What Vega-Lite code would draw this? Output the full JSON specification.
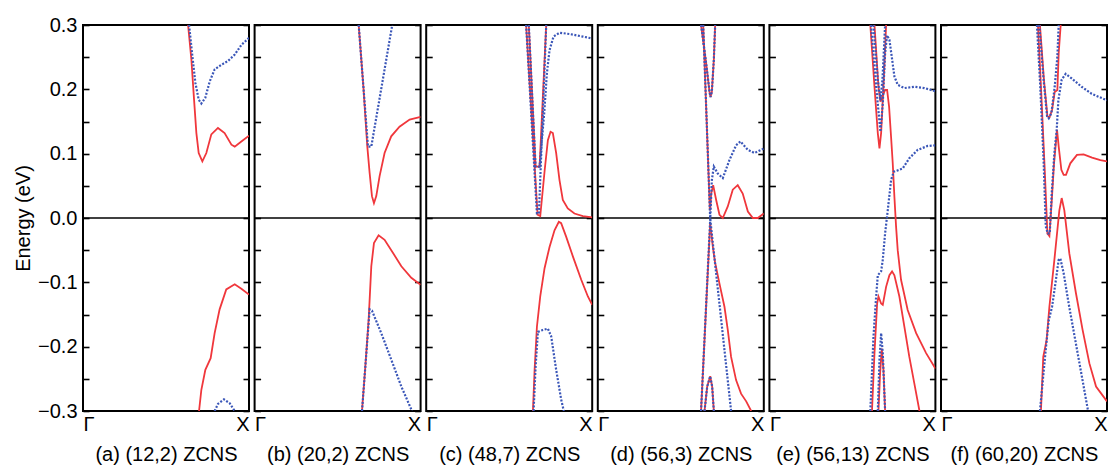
{
"$schema":"https://vega.github.io/schema/vega-lite/v6.json",
"padding":{"left":12,"top":14,"right":2,"bottom":0},
"autosize":{"type":"pad"},
"spacing":5.6,
"bounds":"flush",
"config":{"view":{"stroke":"black","strokeWidth":2},"axis":{"labelFont":"Liberation Sans","titleFont":"Liberation Sans","labelColor":"black","titleColor":"black","grid":false,"domain":false,"tickColor":"black"}},
"datasets":{"bands":[
{"p":"a","b":"r1","c":"r","x":0.633,"y":0.3},{"p":"a","b":"r1","c":"r","x":0.653,"y":0.246},{"p":"a","b":"r1","c":"r","x":0.669,"y":0.184},{"p":"a","b":"r1","c":"r","x":0.683,"y":0.132},{"p":"a","b":"r1","c":"r","x":0.697,"y":0.101},{"p":"a","b":"r1","c":"r","x":0.719,"y":0.088},{"p":"a","b":"r1","c":"r","x":0.743,"y":0.101},{"p":"a","b":"r1","c":"r","x":0.773,"y":0.13},{"p":"a","b":"r1","c":"r","x":0.813,"y":0.14},{"p":"a","b":"r1","c":"r","x":0.853,"y":0.132},{"p":"a","b":"r1","c":"r","x":0.894,"y":0.114},{"p":"a","b":"r1","c":"r","x":0.914,"y":0.111},{"p":"a","b":"r1","c":"r","x":0.954,"y":0.119},{"p":"a","b":"r1","c":"r","x":1.0,"y":0.128},
{"p":"a","b":"b1","c":"b","x":0.639,"y":0.3},{"p":"a","b":"b1","c":"b","x":0.657,"y":0.256},{"p":"a","b":"b1","c":"b","x":0.677,"y":0.21},{"p":"a","b":"b1","c":"b","x":0.697,"y":0.184},{"p":"a","b":"b1","c":"b","x":0.713,"y":0.178},{"p":"a","b":"b1","c":"b","x":0.737,"y":0.187},{"p":"a","b":"b1","c":"b","x":0.763,"y":0.212},{"p":"a","b":"b1","c":"b","x":0.793,"y":0.231},{"p":"a","b":"b1","c":"b","x":0.833,"y":0.238},{"p":"a","b":"b1","c":"b","x":0.873,"y":0.244},{"p":"a","b":"b1","c":"b","x":0.914,"y":0.254},{"p":"a","b":"b1","c":"b","x":0.954,"y":0.269},{"p":"a","b":"b1","c":"b","x":1.0,"y":0.28},
{"p":"a","b":"r2","c":"r","x":0.699,"y":-0.3},{"p":"a","b":"r2","c":"r","x":0.713,"y":-0.267},{"p":"a","b":"r2","c":"r","x":0.737,"y":-0.236},{"p":"a","b":"r2","c":"r","x":0.769,"y":-0.218},{"p":"a","b":"r2","c":"r","x":0.793,"y":-0.179},{"p":"a","b":"r2","c":"r","x":0.823,"y":-0.142},{"p":"a","b":"r2","c":"r","x":0.863,"y":-0.111},{"p":"a","b":"r2","c":"r","x":0.914,"y":-0.103},{"p":"a","b":"r2","c":"r","x":0.954,"y":-0.11},{"p":"a","b":"r2","c":"r","x":1.0,"y":-0.119},
{"p":"a","b":"b2","c":"b","x":0.793,"y":-0.3},{"p":"a","b":"b2","c":"b","x":0.813,"y":-0.289},{"p":"a","b":"b2","c":"b","x":0.849,"y":-0.282},{"p":"a","b":"b2","c":"b","x":0.884,"y":-0.288},{"p":"a","b":"b2","c":"b","x":0.914,"y":-0.3},

{"p":"b","b":"b1","c":"b","x":0.627,"y":0.3},{"p":"b","b":"b1","c":"b","x":0.683,"y":0.111},{"p":"b","b":"b1","c":"b","x":0.703,"y":0.111},{"p":"b","b":"b1","c":"b","x":0.829,"y":0.3},
{"p":"b","b":"r1","c":"r","x":0.627,"y":0.3},{"p":"b","b":"r1","c":"r","x":0.655,"y":0.205},{"p":"b","b":"r1","c":"r","x":0.679,"y":0.111},{"p":"b","b":"r1","c":"r","x":0.693,"y":0.07},{"p":"b","b":"r1","c":"r","x":0.707,"y":0.034},{"p":"b","b":"r1","c":"r","x":0.719,"y":0.023},{"p":"b","b":"r1","c":"r","x":0.733,"y":0.034},{"p":"b","b":"r1","c":"r","x":0.753,"y":0.065},{"p":"b","b":"r1","c":"r","x":0.783,"y":0.101},{"p":"b","b":"r1","c":"r","x":0.823,"y":0.127},{"p":"b","b":"r1","c":"r","x":0.873,"y":0.142},{"p":"b","b":"r1","c":"r","x":0.934,"y":0.153},{"p":"b","b":"r1","c":"r","x":1.0,"y":0.157},
{"p":"b","b":"r2","c":"r","x":0.647,"y":-0.3},{"p":"b","b":"r2","c":"r","x":0.667,"y":-0.231},{"p":"b","b":"r2","c":"r","x":0.687,"y":-0.158},{"p":"b","b":"r2","c":"r","x":0.703,"y":-0.075},{"p":"b","b":"r2","c":"r","x":0.719,"y":-0.039},{"p":"b","b":"r2","c":"r","x":0.747,"y":-0.027},{"p":"b","b":"r2","c":"r","x":0.783,"y":-0.034},{"p":"b","b":"r2","c":"r","x":0.833,"y":-0.054},{"p":"b","b":"r2","c":"r","x":0.884,"y":-0.075},{"p":"b","b":"r2","c":"r","x":0.944,"y":-0.093},{"p":"b","b":"r2","c":"r","x":1.0,"y":-0.104},
{"p":"b","b":"b2","c":"b","x":0.647,"y":-0.3},{"p":"b","b":"b2","c":"b","x":0.693,"y":-0.142},{"p":"b","b":"b2","c":"b","x":0.707,"y":-0.144},{"p":"b","b":"b2","c":"b","x":0.763,"y":-0.179},{"p":"b","b":"b2","c":"b","x":0.823,"y":-0.22},{"p":"b","b":"b2","c":"b","x":0.884,"y":-0.262},{"p":"b","b":"b2","c":"b","x":0.948,"y":-0.3},

{"p":"c","b":"b1","c":"b","x":0.602,"y":0.3},{"p":"c","b":"b1","c":"b","x":0.667,"y":0.007},{"p":"c","b":"b1","c":"b","x":0.679,"y":0.007},{"p":"c","b":"b1","c":"b","x":0.723,"y":0.3},
{"p":"c","b":"b2","c":"b","x":0.618,"y":0.3},{"p":"c","b":"b2","c":"b","x":0.659,"y":0.08},{"p":"c","b":"b2","c":"b","x":0.683,"y":0.08},{"p":"c","b":"b2","c":"b","x":0.711,"y":0.163},{"p":"c","b":"b2","c":"b","x":0.727,"y":0.225},{"p":"c","b":"b2","c":"b","x":0.743,"y":0.261},{"p":"c","b":"b2","c":"b","x":0.767,"y":0.282},{"p":"c","b":"b2","c":"b","x":0.803,"y":0.288},{"p":"c","b":"b2","c":"b","x":0.863,"y":0.286},{"p":"c","b":"b2","c":"b","x":0.944,"y":0.282},{"p":"c","b":"b2","c":"b","x":1.0,"y":0.279},
{"p":"c","b":"r1","c":"r","x":0.602,"y":0.3},{"p":"c","b":"r1","c":"r","x":0.671,"y":0.005},{"p":"c","b":"r1","c":"r","x":0.687,"y":0.003},{"p":"c","b":"r1","c":"r","x":0.714,"y":0.075},{"p":"c","b":"r1","c":"r","x":0.733,"y":0.121},{"p":"c","b":"r1","c":"r","x":0.749,"y":0.134},{"p":"c","b":"r1","c":"r","x":0.763,"y":0.132},{"p":"c","b":"r1","c":"r","x":0.783,"y":0.101},{"p":"c","b":"r1","c":"r","x":0.803,"y":0.059},{"p":"c","b":"r1","c":"r","x":0.823,"y":0.028},{"p":"c","b":"r1","c":"r","x":0.853,"y":0.015},{"p":"c","b":"r1","c":"r","x":0.893,"y":0.007},{"p":"c","b":"r1","c":"r","x":0.944,"y":0.003},{"p":"c","b":"r1","c":"r","x":1.0,"y":0.001},
{"p":"c","b":"r2","c":"r","x":0.618,"y":0.3},{"p":"c","b":"r2","c":"r","x":0.659,"y":0.08},{"p":"c","b":"r2","c":"r","x":0.683,"y":0.08},{"p":"c","b":"r2","c":"r","x":0.723,"y":0.3},
{"p":"c","b":"r3","c":"r","x":0.643,"y":-0.3},{"p":"c","b":"r3","c":"r","x":0.653,"y":-0.236},{"p":"c","b":"r3","c":"r","x":0.667,"y":-0.169},{"p":"c","b":"r3","c":"r","x":0.687,"y":-0.122},{"p":"c","b":"r3","c":"r","x":0.713,"y":-0.078},{"p":"c","b":"r3","c":"r","x":0.743,"y":-0.045},{"p":"c","b":"r3","c":"r","x":0.773,"y":-0.019},{"p":"c","b":"r3","c":"r","x":0.799,"y":-0.006},{"p":"c","b":"r3","c":"r","x":0.813,"y":-0.008},{"p":"c","b":"r3","c":"r","x":0.843,"y":-0.029},{"p":"c","b":"r3","c":"r","x":0.884,"y":-0.06},{"p":"c","b":"r3","c":"r","x":0.934,"y":-0.096},{"p":"c","b":"r3","c":"r","x":0.974,"y":-0.122},{"p":"c","b":"r3","c":"r","x":1.0,"y":-0.135},
{"p":"c","b":"b3","c":"b","x":0.647,"y":-0.3},{"p":"c","b":"b3","c":"b","x":0.659,"y":-0.231},{"p":"c","b":"b3","c":"b","x":0.673,"y":-0.177},{"p":"c","b":"b3","c":"b","x":0.703,"y":-0.174},{"p":"c","b":"b3","c":"b","x":0.733,"y":-0.172},{"p":"c","b":"b3","c":"b","x":0.753,"y":-0.184},{"p":"c","b":"b3","c":"b","x":0.783,"y":-0.236},{"p":"c","b":"b3","c":"b","x":0.813,"y":-0.282},{"p":"c","b":"b3","c":"b","x":0.829,"y":-0.3},

{"p":"d","b":"b1","c":"b","x":0.622,"y":0.3},{"p":"d","b":"b1","c":"b","x":0.653,"y":0.24},{"p":"d","b":"b1","c":"b","x":0.673,"y":0.196},{"p":"d","b":"b1","c":"b","x":0.679,"y":0.188},{"p":"d","b":"b1","c":"b","x":0.687,"y":0.196},{"p":"d","b":"b1","c":"b","x":0.699,"y":0.246},{"p":"d","b":"b1","c":"b","x":0.707,"y":0.3},
{"p":"d","b":"r1","c":"r","x":0.622,"y":0.3},{"p":"d","b":"r1","c":"r","x":0.653,"y":0.24},{"p":"d","b":"r1","c":"r","x":0.673,"y":0.196},{"p":"d","b":"r1","c":"r","x":0.679,"y":0.188},{"p":"d","b":"r1","c":"r","x":0.687,"y":0.196},{"p":"d","b":"r1","c":"r","x":0.699,"y":0.246},{"p":"d","b":"r1","c":"r","x":0.707,"y":0.3},
{"p":"d","b":"b2","c":"b","x":0.635,"y":0.3},{"p":"d","b":"b2","c":"b","x":0.677,"y":-0.001},{"p":"d","b":"b2","c":"b","x":0.803,"y":-0.3},
{"p":"d","b":"b3","c":"b","x":0.622,"y":-0.3},{"p":"d","b":"b3","c":"b","x":0.677,"y":-0.003},{"p":"d","b":"b3","c":"b","x":0.687,"y":0.059},{"p":"d","b":"b3","c":"b","x":0.699,"y":0.08},{"p":"d","b":"b3","c":"b","x":0.723,"y":0.069},{"p":"d","b":"b3","c":"b","x":0.753,"y":0.062},{"p":"d","b":"b3","c":"b","x":0.793,"y":0.09},{"p":"d","b":"b3","c":"b","x":0.833,"y":0.113},{"p":"d","b":"b3","c":"b","x":0.859,"y":0.119},{"p":"d","b":"b3","c":"b","x":0.904,"y":0.106},{"p":"d","b":"b3","c":"b","x":0.944,"y":0.101},{"p":"d","b":"b3","c":"b","x":1.0,"y":0.108},
{"p":"d","b":"r2","c":"r","x":0.635,"y":0.3},{"p":"d","b":"r2","c":"r","x":0.675,"y":0.012},
{"p":"d","b":"r3","c":"r","x":0.622,"y":-0.3},{"p":"d","b":"r3","c":"r","x":0.677,"y":-0.008},
{"p":"d","b":"r4","c":"r","x":0.677,"y":-0.008},{"p":"d","b":"r4","c":"r","x":0.693,"y":-0.045},{"p":"d","b":"r4","c":"r","x":0.707,"y":-0.07},{"p":"d","b":"r4","c":"r","x":0.733,"y":-0.102},{"p":"d","b":"r4","c":"r","x":0.763,"y":-0.138},{"p":"d","b":"r4","c":"r","x":0.783,"y":-0.174},{"p":"d","b":"r4","c":"r","x":0.803,"y":-0.216},{"p":"d","b":"r4","c":"r","x":0.833,"y":-0.252},{"p":"d","b":"r4","c":"r","x":0.863,"y":-0.273},{"p":"d","b":"r4","c":"r","x":0.894,"y":-0.285},{"p":"d","b":"r4","c":"r","x":0.924,"y":-0.3},
{"p":"d","b":"r5","c":"r","x":0.677,"y":0.012},{"p":"d","b":"r5","c":"r","x":0.683,"y":0.038},{"p":"d","b":"r5","c":"r","x":0.695,"y":0.051},{"p":"d","b":"r5","c":"r","x":0.713,"y":0.028},{"p":"d","b":"r5","c":"r","x":0.733,"y":0.005},{"p":"d","b":"r5","c":"r","x":0.753,"y":0.0},{"p":"d","b":"r5","c":"r","x":0.783,"y":0.018},{"p":"d","b":"r5","c":"r","x":0.813,"y":0.044},{"p":"d","b":"r5","c":"r","x":0.843,"y":0.051},{"p":"d","b":"r5","c":"r","x":0.873,"y":0.038},{"p":"d","b":"r5","c":"r","x":0.904,"y":0.01},{"p":"d","b":"r5","c":"r","x":0.934,"y":0.0},{"p":"d","b":"r5","c":"r","x":0.964,"y":0.0},{"p":"d","b":"r5","c":"r","x":1.0,"y":0.007},
{"p":"d","b":"b4","c":"b","x":0.643,"y":-0.3},{"p":"d","b":"b4","c":"b","x":0.659,"y":-0.262},{"p":"d","b":"b4","c":"b","x":0.677,"y":-0.246},{"p":"d","b":"b4","c":"b","x":0.689,"y":-0.262},{"p":"d","b":"b4","c":"b","x":0.699,"y":-0.3},
{"p":"d","b":"r6","c":"r","x":0.643,"y":-0.3},{"p":"d","b":"r6","c":"r","x":0.659,"y":-0.262},{"p":"d","b":"r6","c":"r","x":0.677,"y":-0.246},{"p":"d","b":"r6","c":"r","x":0.689,"y":-0.262},{"p":"d","b":"r6","c":"r","x":0.699,"y":-0.3},

{"p":"e","b":"b1","c":"b","x":0.612,"y":0.3},{"p":"e","b":"b1","c":"b","x":0.643,"y":0.204},{"p":"e","b":"b1","c":"b","x":0.669,"y":0.134},{"p":"e","b":"b1","c":"b","x":0.683,"y":0.178},{"p":"e","b":"b1","c":"b","x":0.697,"y":0.256},{"p":"e","b":"b1","c":"b","x":0.709,"y":0.284},{"p":"e","b":"b1","c":"b","x":0.723,"y":0.277},{"p":"e","b":"b1","c":"b","x":0.737,"y":0.251},{"p":"e","b":"b1","c":"b","x":0.753,"y":0.22},{"p":"e","b":"b1","c":"b","x":0.773,"y":0.207},{"p":"e","b":"b1","c":"b","x":0.813,"y":0.202},{"p":"e","b":"b1","c":"b","x":0.873,"y":0.204},{"p":"e","b":"b1","c":"b","x":0.934,"y":0.202},{"p":"e","b":"b1","c":"b","x":1.0,"y":0.197},
{"p":"e","b":"b2","c":"b","x":0.627,"y":0.3},{"p":"e","b":"b2","c":"b","x":0.653,"y":0.215},{"p":"e","b":"b2","c":"b","x":0.669,"y":0.183},{"p":"e","b":"b2","c":"b","x":0.681,"y":0.215},{"p":"e","b":"b2","c":"b","x":0.697,"y":0.3},
{"p":"e","b":"r1","c":"r","x":0.608,"y":0.3},{"p":"e","b":"r1","c":"r","x":0.633,"y":0.204},{"p":"e","b":"r1","c":"r","x":0.653,"y":0.132},{"p":"e","b":"r1","c":"r","x":0.663,"y":0.108},{"p":"e","b":"r1","c":"r","x":0.673,"y":0.132},{"p":"e","b":"r1","c":"r","x":0.689,"y":0.215},{"p":"e","b":"r1","c":"r","x":0.703,"y":0.3},
{"p":"e","b":"r2","c":"r","x":0.633,"y":0.3},{"p":"e","b":"r2","c":"r","x":0.657,"y":0.204},{"p":"e","b":"r2","c":"r","x":0.669,"y":0.181},{"p":"e","b":"r2","c":"r","x":0.681,"y":0.189},{"p":"e","b":"r2","c":"r","x":0.697,"y":0.199},{"p":"e","b":"r2","c":"r","x":0.709,"y":0.199},{"p":"e","b":"r2","c":"r","x":0.721,"y":0.173},{"p":"e","b":"r2","c":"r","x":0.733,"y":0.126},{"p":"e","b":"r2","c":"r","x":0.743,"y":0.085},{"p":"e","b":"r2","c":"r","x":0.753,"y":0.033},{"p":"e","b":"r2","c":"r","x":0.763,"y":-0.013},{"p":"e","b":"r2","c":"r","x":0.773,"y":-0.05},{"p":"e","b":"r2","c":"r","x":0.793,"y":-0.096},{"p":"e","b":"r2","c":"r","x":0.833,"y":-0.143},{"p":"e","b":"r2","c":"r","x":0.884,"y":-0.179},{"p":"e","b":"r2","c":"r","x":0.944,"y":-0.21},{"p":"e","b":"r2","c":"r","x":1.0,"y":-0.234},
{"p":"e","b":"b3","c":"b","x":0.608,"y":-0.3},{"p":"e","b":"b3","c":"b","x":0.627,"y":-0.184},{"p":"e","b":"b3","c":"b","x":0.643,"y":-0.122},{"p":"e","b":"b3","c":"b","x":0.653,"y":-0.089},{"p":"e","b":"b3","c":"b","x":0.673,"y":-0.083},{"p":"e","b":"b3","c":"b","x":0.683,"y":-0.065},{"p":"e","b":"b3","c":"b","x":0.697,"y":-0.024},{"p":"e","b":"b3","c":"b","x":0.713,"y":0.012},{"p":"e","b":"b3","c":"b","x":0.733,"y":0.059},{"p":"e","b":"b3","c":"b","x":0.749,"y":0.072},{"p":"e","b":"b3","c":"b","x":0.773,"y":0.074},{"p":"e","b":"b3","c":"b","x":0.803,"y":0.077},{"p":"e","b":"b3","c":"b","x":0.843,"y":0.093},{"p":"e","b":"b3","c":"b","x":0.894,"y":0.106},{"p":"e","b":"b3","c":"b","x":0.954,"y":0.112},{"p":"e","b":"b3","c":"b","x":1.0,"y":0.113},
{"p":"e","b":"r3","c":"r","x":0.618,"y":-0.3},{"p":"e","b":"r3","c":"r","x":0.633,"y":-0.21},{"p":"e","b":"r3","c":"r","x":0.649,"y":-0.133},{"p":"e","b":"r3","c":"r","x":0.657,"y":-0.122},{"p":"e","b":"r3","c":"r","x":0.673,"y":-0.133},{"p":"e","b":"r3","c":"r","x":0.683,"y":-0.135},{"p":"e","b":"r3","c":"r","x":0.703,"y":-0.107},{"p":"e","b":"r3","c":"r","x":0.723,"y":-0.089},{"p":"e","b":"r3","c":"r","x":0.739,"y":-0.083},{"p":"e","b":"r3","c":"r","x":0.753,"y":-0.089},{"p":"e","b":"r3","c":"r","x":0.783,"y":-0.122},{"p":"e","b":"r3","c":"r","x":0.813,"y":-0.169},{"p":"e","b":"r3","c":"r","x":0.843,"y":-0.216},{"p":"e","b":"r3","c":"r","x":0.873,"y":-0.257},{"p":"e","b":"r3","c":"r","x":0.904,"y":-0.3},
{"p":"e","b":"b4","c":"b","x":0.653,"y":-0.3},{"p":"e","b":"b4","c":"b","x":0.663,"y":-0.221},{"p":"e","b":"b4","c":"b","x":0.673,"y":-0.179},{"p":"e","b":"b4","c":"b","x":0.683,"y":-0.21},{"p":"e","b":"b4","c":"b","x":0.697,"y":-0.3},
{"p":"e","b":"r4","c":"r","x":0.657,"y":-0.3},{"p":"e","b":"r4","c":"r","x":0.667,"y":-0.241},{"p":"e","b":"r4","c":"r","x":0.677,"y":-0.203},{"p":"e","b":"r4","c":"r","x":0.687,"y":-0.236},{"p":"e","b":"r4","c":"r","x":0.697,"y":-0.3},

{"p":"f","b":"b1","c":"b","x":0.578,"y":0.3},{"p":"f","b":"b1","c":"b","x":0.598,"y":0.204},{"p":"f","b":"b1","c":"b","x":0.618,"y":0.09},{"p":"f","b":"b1","c":"b","x":0.631,"y":-0.013},{"p":"f","b":"b1","c":"b","x":0.643,"y":-0.024},{"p":"f","b":"b1","c":"b","x":0.655,"y":-0.024},{"p":"f","b":"b1","c":"b","x":0.667,"y":0.038},{"p":"f","b":"b1","c":"b","x":0.683,"y":0.101},{"p":"f","b":"b1","c":"b","x":0.697,"y":0.137},{"p":"f","b":"b1","c":"b","x":0.707,"y":0.183},{"p":"f","b":"b1","c":"b","x":0.727,"y":0.215},{"p":"f","b":"b1","c":"b","x":0.751,"y":0.224},{"p":"f","b":"b1","c":"b","x":0.787,"y":0.217},{"p":"f","b":"b1","c":"b","x":0.847,"y":0.204},{"p":"f","b":"b1","c":"b","x":0.908,"y":0.193},{"p":"f","b":"b1","c":"b","x":1.0,"y":0.183},
{"p":"f","b":"r1","c":"r","x":0.584,"y":0.3},{"p":"f","b":"r1","c":"r","x":0.604,"y":0.194},{"p":"f","b":"r1","c":"r","x":0.624,"y":0.08},{"p":"f","b":"r1","c":"r","x":0.641,"y":-0.024},{"p":"f","b":"r1","c":"r","x":0.653,"y":-0.028},{"p":"f","b":"r1","c":"r","x":0.665,"y":0.018},{"p":"f","b":"r1","c":"r","x":0.681,"y":0.085},{"p":"f","b":"r1","c":"r","x":0.699,"y":0.137},{"p":"f","b":"r1","c":"r","x":0.709,"y":0.111},{"p":"f","b":"r1","c":"r","x":0.725,"y":0.075},{"p":"f","b":"r1","c":"r","x":0.739,"y":0.067},{"p":"f","b":"r1","c":"r","x":0.753,"y":0.067},{"p":"f","b":"r1","c":"r","x":0.779,"y":0.085},{"p":"f","b":"r1","c":"r","x":0.819,"y":0.098},{"p":"f","b":"r1","c":"r","x":0.859,"y":0.099},{"p":"f","b":"r1","c":"r","x":0.91,"y":0.094},{"p":"f","b":"r1","c":"r","x":0.96,"y":0.09},{"p":"f","b":"r1","c":"r","x":1.0,"y":0.088},
{"p":"f","b":"b2","c":"b","x":0.592,"y":0.3},{"p":"f","b":"b2","c":"b","x":0.618,"y":0.215},{"p":"f","b":"b2","c":"b","x":0.639,"y":0.158},{"p":"f","b":"b2","c":"b","x":0.649,"y":0.155},{"p":"f","b":"b2","c":"b","x":0.665,"y":0.163},{"p":"f","b":"b2","c":"b","x":0.685,"y":0.204},{"p":"f","b":"b2","c":"b","x":0.701,"y":0.251},{"p":"f","b":"b2","c":"b","x":0.709,"y":0.3},
{"p":"f","b":"r2","c":"r","x":0.596,"y":0.3},{"p":"f","b":"r2","c":"r","x":0.62,"y":0.215},{"p":"f","b":"r2","c":"r","x":0.641,"y":0.158},{"p":"f","b":"r2","c":"r","x":0.653,"y":0.156},{"p":"f","b":"r2","c":"r","x":0.669,"y":0.168},{"p":"f","b":"r2","c":"r","x":0.685,"y":0.196},{"p":"f","b":"r2","c":"r","x":0.701,"y":0.199},{"p":"f","b":"r2","c":"r","x":0.709,"y":0.256},{"p":"f","b":"r2","c":"r","x":0.721,"y":0.3},
{"p":"f","b":"r3","c":"r","x":0.602,"y":-0.3},{"p":"f","b":"r3","c":"r","x":0.616,"y":-0.216},{"p":"f","b":"r3","c":"r","x":0.636,"y":-0.19},{"p":"f","b":"r3","c":"r","x":0.653,"y":-0.138},{"p":"f","b":"r3","c":"r","x":0.683,"y":-0.065},{"p":"f","b":"r3","c":"r","x":0.713,"y":0.012},{"p":"f","b":"r3","c":"r","x":0.727,"y":0.031},{"p":"f","b":"r3","c":"r","x":0.743,"y":0.012},{"p":"f","b":"r3","c":"r","x":0.773,"y":-0.055},{"p":"f","b":"r3","c":"r","x":0.813,"y":-0.117},{"p":"f","b":"r3","c":"r","x":0.853,"y":-0.174},{"p":"f","b":"r3","c":"r","x":0.894,"y":-0.226},{"p":"f","b":"r3","c":"r","x":0.934,"y":-0.262},{"p":"f","b":"r3","c":"r","x":1.0,"y":-0.285},
{"p":"f","b":"b3","c":"b","x":0.596,"y":-0.3},{"p":"f","b":"b3","c":"b","x":0.629,"y":-0.21},{"p":"f","b":"b3","c":"b","x":0.649,"y":-0.159},{"p":"f","b":"b3","c":"b","x":0.669,"y":-0.138},{"p":"f","b":"b3","c":"b","x":0.689,"y":-0.102},{"p":"f","b":"b3","c":"b","x":0.709,"y":-0.065},{"p":"f","b":"b3","c":"b","x":0.719,"y":-0.063},{"p":"f","b":"b3","c":"b","x":0.739,"y":-0.086},{"p":"f","b":"b3","c":"b","x":0.769,"y":-0.133},{"p":"f","b":"b3","c":"b","x":0.809,"y":-0.19},{"p":"f","b":"b3","c":"b","x":0.849,"y":-0.247},{"p":"f","b":"b3","c":"b","x":0.886,"y":-0.3}
]},
"hconcat":[
{"width":166,"height":386,"layer":[
 {"data":{"values":[{"v":0}]},"mark":{"type":"rule","color":"black","strokeWidth":1.5},"encoding":{"y":{"field":"v","type":"quantitative","scale":{"domain":[-0.3,0.3],"nice":false,"zero":false},"axis":{"orient":"left","values":[-0.3,-0.25,-0.2,-0.15,-0.1,-0.05,0,0.05,0.1,0.15,0.2,0.25,0.3],"offset":-6,"tickSize":6,"tickWidth":1.6,"labelExpr":"abs(round(datum.value*20)) % 2 == 0 ? format(datum.value, '.1f') : ''","labelFontSize":20,"labelPadding":6,"labelFlush":false,"labelOverlap":false,"title":"Energy (eV)","titleFontSize":20,"titleFontWeight":"normal","titlePadding":4}}}},
 {"data":{"name":"bands"},"transform":[{"filter":"datum.p=='a' && datum.c=='r'"}],"mark":{"type":"line","color":"#f0373c","strokeWidth":1.8,"clip":true},"encoding":{"x":{"field":"x","type":"quantitative","scale":{"domain":[0,1],"nice":false,"zero":false},"axis":{"values":[0,1],"labelExpr":"datum.value == 0 ? 'Γ' : 'X'","ticks":false,"labelFlush":true,"labelOverlap":false,"labelFontSize":20,"labelPadding":3,"title":"(a) (12,2) ZCNS","titleFontSize":20,"titleFontWeight":"normal","titlePadding":10}},"y":{"field":"y","type":"quantitative","scale":{"domain":[-0.3,0.3],"nice":false,"zero":false},"axis":{"orient":"right","values":[-0.3,-0.25,-0.2,-0.15,-0.1,-0.05,0,0.05,0.1,0.15,0.2,0.25,0.3],"offset":-6,"tickSize":6,"tickWidth":1.6,"labels":false,"title":null}},"detail":{"field":"b"}}},
 {"data":{"name":"bands"},"transform":[{"filter":"datum.p=='a' && datum.c=='b'"}],"mark":{"type":"line","color":"#3a56b8","strokeWidth":2.2,"strokeDash":[2,1.6],"clip":true},"encoding":{"x":{"field":"x","type":"quantitative","scale":{"domain":[0,1],"nice":false,"zero":false},"axis":{"values":[0,1],"labelExpr":"datum.value == 0 ? 'Γ' : 'X'","ticks":false,"labelFlush":true,"labelOverlap":false,"labelFontSize":20,"labelPadding":3,"title":"(a) (12,2) ZCNS","titleFontSize":20,"titleFontWeight":"normal","titlePadding":10}},"y":{"field":"y","type":"quantitative","scale":{"domain":[-0.3,0.3],"nice":false,"zero":false},"axis":null},"detail":{"field":"b"}}}
],"resolve":{"axis":{"y":"independent"}}},
{"width":166,"height":386,"layer":[
 {"data":{"values":[{"v":0}]},"mark":{"type":"rule","color":"black","strokeWidth":1.5},"encoding":{"y":{"field":"v","type":"quantitative","scale":{"domain":[-0.3,0.3],"nice":false,"zero":false},"axis":{"orient":"left","values":[-0.3,-0.25,-0.2,-0.15,-0.1,-0.05,0,0.05,0.1,0.15,0.2,0.25,0.3],"offset":-6,"tickSize":6,"tickWidth":1.6,"labels":false,"title":null}}}},
 {"data":{"name":"bands"},"transform":[{"filter":"datum.p=='b' && datum.c=='r'"}],"mark":{"type":"line","color":"#f0373c","strokeWidth":1.8,"clip":true},"encoding":{"x":{"field":"x","type":"quantitative","scale":{"domain":[0,1],"nice":false,"zero":false},"axis":{"values":[0,1],"labelExpr":"datum.value == 0 ? 'Γ' : 'X'","ticks":false,"labelFlush":true,"labelOverlap":false,"labelFontSize":20,"labelPadding":3,"title":"(b) (20,2) ZCNS","titleFontSize":20,"titleFontWeight":"normal","titlePadding":10}},"y":{"field":"y","type":"quantitative","scale":{"domain":[-0.3,0.3],"nice":false,"zero":false},"axis":{"orient":"right","values":[-0.3,-0.25,-0.2,-0.15,-0.1,-0.05,0,0.05,0.1,0.15,0.2,0.25,0.3],"offset":-6,"tickSize":6,"tickWidth":1.6,"labels":false,"title":null}},"detail":{"field":"b"}}},
 {"data":{"name":"bands"},"transform":[{"filter":"datum.p=='b' && datum.c=='b'"}],"mark":{"type":"line","color":"#3a56b8","strokeWidth":2.2,"strokeDash":[2,1.6],"clip":true},"encoding":{"x":{"field":"x","type":"quantitative","scale":{"domain":[0,1],"nice":false,"zero":false},"axis":{"values":[0,1],"labelExpr":"datum.value == 0 ? 'Γ' : 'X'","ticks":false,"labelFlush":true,"labelOverlap":false,"labelFontSize":20,"labelPadding":3,"title":"(b) (20,2) ZCNS","titleFontSize":20,"titleFontWeight":"normal","titlePadding":10}},"y":{"field":"y","type":"quantitative","scale":{"domain":[-0.3,0.3],"nice":false,"zero":false},"axis":null},"detail":{"field":"b"}}}
],"resolve":{"axis":{"y":"independent"}}},
{"width":166,"height":386,"layer":[
 {"data":{"values":[{"v":0}]},"mark":{"type":"rule","color":"black","strokeWidth":1.5},"encoding":{"y":{"field":"v","type":"quantitative","scale":{"domain":[-0.3,0.3],"nice":false,"zero":false},"axis":{"orient":"left","values":[-0.3,-0.25,-0.2,-0.15,-0.1,-0.05,0,0.05,0.1,0.15,0.2,0.25,0.3],"offset":-6,"tickSize":6,"tickWidth":1.6,"labels":false,"title":null}}}},
 {"data":{"name":"bands"},"transform":[{"filter":"datum.p=='c' && datum.c=='r'"}],"mark":{"type":"line","color":"#f0373c","strokeWidth":1.8,"clip":true},"encoding":{"x":{"field":"x","type":"quantitative","scale":{"domain":[0,1],"nice":false,"zero":false},"axis":{"values":[0,1],"labelExpr":"datum.value == 0 ? 'Γ' : 'X'","ticks":false,"labelFlush":true,"labelOverlap":false,"labelFontSize":20,"labelPadding":3,"title":"(c) (48,7) ZCNS","titleFontSize":20,"titleFontWeight":"normal","titlePadding":10}},"y":{"field":"y","type":"quantitative","scale":{"domain":[-0.3,0.3],"nice":false,"zero":false},"axis":{"orient":"right","values":[-0.3,-0.25,-0.2,-0.15,-0.1,-0.05,0,0.05,0.1,0.15,0.2,0.25,0.3],"offset":-6,"tickSize":6,"tickWidth":1.6,"labels":false,"title":null}},"detail":{"field":"b"}}},
 {"data":{"name":"bands"},"transform":[{"filter":"datum.p=='c' && datum.c=='b'"}],"mark":{"type":"line","color":"#3a56b8","strokeWidth":2.2,"strokeDash":[2,1.6],"clip":true},"encoding":{"x":{"field":"x","type":"quantitative","scale":{"domain":[0,1],"nice":false,"zero":false},"axis":{"values":[0,1],"labelExpr":"datum.value == 0 ? 'Γ' : 'X'","ticks":false,"labelFlush":true,"labelOverlap":false,"labelFontSize":20,"labelPadding":3,"title":"(c) (48,7) ZCNS","titleFontSize":20,"titleFontWeight":"normal","titlePadding":10}},"y":{"field":"y","type":"quantitative","scale":{"domain":[-0.3,0.3],"nice":false,"zero":false},"axis":null},"detail":{"field":"b"}}}
],"resolve":{"axis":{"y":"independent"}}},
{"width":166,"height":386,"layer":[
 {"data":{"values":[{"v":0}]},"mark":{"type":"rule","color":"black","strokeWidth":1.5},"encoding":{"y":{"field":"v","type":"quantitative","scale":{"domain":[-0.3,0.3],"nice":false,"zero":false},"axis":{"orient":"left","values":[-0.3,-0.25,-0.2,-0.15,-0.1,-0.05,0,0.05,0.1,0.15,0.2,0.25,0.3],"offset":-6,"tickSize":6,"tickWidth":1.6,"labels":false,"title":null}}}},
 {"data":{"name":"bands"},"transform":[{"filter":"datum.p=='d' && datum.c=='r'"}],"mark":{"type":"line","color":"#f0373c","strokeWidth":1.8,"clip":true},"encoding":{"x":{"field":"x","type":"quantitative","scale":{"domain":[0,1],"nice":false,"zero":false},"axis":{"values":[0,1],"labelExpr":"datum.value == 0 ? 'Γ' : 'X'","ticks":false,"labelFlush":true,"labelOverlap":false,"labelFontSize":20,"labelPadding":3,"title":"(d) (56,3) ZCNS","titleFontSize":20,"titleFontWeight":"normal","titlePadding":10}},"y":{"field":"y","type":"quantitative","scale":{"domain":[-0.3,0.3],"nice":false,"zero":false},"axis":{"orient":"right","values":[-0.3,-0.25,-0.2,-0.15,-0.1,-0.05,0,0.05,0.1,0.15,0.2,0.25,0.3],"offset":-6,"tickSize":6,"tickWidth":1.6,"labels":false,"title":null}},"detail":{"field":"b"}}},
 {"data":{"name":"bands"},"transform":[{"filter":"datum.p=='d' && datum.c=='b'"}],"mark":{"type":"line","color":"#3a56b8","strokeWidth":2.2,"strokeDash":[2,1.6],"clip":true},"encoding":{"x":{"field":"x","type":"quantitative","scale":{"domain":[0,1],"nice":false,"zero":false},"axis":{"values":[0,1],"labelExpr":"datum.value == 0 ? 'Γ' : 'X'","ticks":false,"labelFlush":true,"labelOverlap":false,"labelFontSize":20,"labelPadding":3,"title":"(d) (56,3) ZCNS","titleFontSize":20,"titleFontWeight":"normal","titlePadding":10}},"y":{"field":"y","type":"quantitative","scale":{"domain":[-0.3,0.3],"nice":false,"zero":false},"axis":null},"detail":{"field":"b"}}}
],"resolve":{"axis":{"y":"independent"}}},
{"width":166,"height":386,"layer":[
 {"data":{"values":[{"v":0}]},"mark":{"type":"rule","color":"black","strokeWidth":1.5},"encoding":{"y":{"field":"v","type":"quantitative","scale":{"domain":[-0.3,0.3],"nice":false,"zero":false},"axis":{"orient":"left","values":[-0.3,-0.25,-0.2,-0.15,-0.1,-0.05,0,0.05,0.1,0.15,0.2,0.25,0.3],"offset":-6,"tickSize":6,"tickWidth":1.6,"labels":false,"title":null}}}},
 {"data":{"name":"bands"},"transform":[{"filter":"datum.p=='e' && datum.c=='r'"}],"mark":{"type":"line","color":"#f0373c","strokeWidth":1.8,"clip":true},"encoding":{"x":{"field":"x","type":"quantitative","scale":{"domain":[0,1],"nice":false,"zero":false},"axis":{"values":[0,1],"labelExpr":"datum.value == 0 ? 'Γ' : 'X'","ticks":false,"labelFlush":true,"labelOverlap":false,"labelFontSize":20,"labelPadding":3,"title":"(e) (56,13) ZCNS","titleFontSize":20,"titleFontWeight":"normal","titlePadding":10}},"y":{"field":"y","type":"quantitative","scale":{"domain":[-0.3,0.3],"nice":false,"zero":false},"axis":{"orient":"right","values":[-0.3,-0.25,-0.2,-0.15,-0.1,-0.05,0,0.05,0.1,0.15,0.2,0.25,0.3],"offset":-6,"tickSize":6,"tickWidth":1.6,"labels":false,"title":null}},"detail":{"field":"b"}}},
 {"data":{"name":"bands"},"transform":[{"filter":"datum.p=='e' && datum.c=='b'"}],"mark":{"type":"line","color":"#3a56b8","strokeWidth":2.2,"strokeDash":[2,1.6],"clip":true},"encoding":{"x":{"field":"x","type":"quantitative","scale":{"domain":[0,1],"nice":false,"zero":false},"axis":{"values":[0,1],"labelExpr":"datum.value == 0 ? 'Γ' : 'X'","ticks":false,"labelFlush":true,"labelOverlap":false,"labelFontSize":20,"labelPadding":3,"title":"(e) (56,13) ZCNS","titleFontSize":20,"titleFontWeight":"normal","titlePadding":10}},"y":{"field":"y","type":"quantitative","scale":{"domain":[-0.3,0.3],"nice":false,"zero":false},"axis":null},"detail":{"field":"b"}}}
],"resolve":{"axis":{"y":"independent"}}},
{"width":166,"height":386,"layer":[
 {"data":{"values":[{"v":0}]},"mark":{"type":"rule","color":"black","strokeWidth":1.5},"encoding":{"y":{"field":"v","type":"quantitative","scale":{"domain":[-0.3,0.3],"nice":false,"zero":false},"axis":{"orient":"left","values":[-0.3,-0.25,-0.2,-0.15,-0.1,-0.05,0,0.05,0.1,0.15,0.2,0.25,0.3],"offset":-6,"tickSize":6,"tickWidth":1.6,"labels":false,"title":null}}}},
 {"data":{"name":"bands"},"transform":[{"filter":"datum.p=='f' && datum.c=='r'"}],"mark":{"type":"line","color":"#f0373c","strokeWidth":1.8,"clip":true},"encoding":{"x":{"field":"x","type":"quantitative","scale":{"domain":[0,1],"nice":false,"zero":false},"axis":{"values":[0,1],"labelExpr":"datum.value == 0 ? 'Γ' : 'X'","ticks":false,"labelFlush":true,"labelOverlap":false,"labelFontSize":20,"labelPadding":3,"title":"(f) (60,20) ZCNS","titleFontSize":20,"titleFontWeight":"normal","titlePadding":10}},"y":{"field":"y","type":"quantitative","scale":{"domain":[-0.3,0.3],"nice":false,"zero":false},"axis":{"orient":"right","values":[-0.3,-0.25,-0.2,-0.15,-0.1,-0.05,0,0.05,0.1,0.15,0.2,0.25,0.3],"offset":-6,"tickSize":6,"tickWidth":1.6,"labels":false,"title":null}},"detail":{"field":"b"}}},
 {"data":{"name":"bands"},"transform":[{"filter":"datum.p=='f' && datum.c=='b'"}],"mark":{"type":"line","color":"#3a56b8","strokeWidth":2.2,"strokeDash":[2,1.6],"clip":true},"encoding":{"x":{"field":"x","type":"quantitative","scale":{"domain":[0,1],"nice":false,"zero":false},"axis":{"values":[0,1],"labelExpr":"datum.value == 0 ? 'Γ' : 'X'","ticks":false,"labelFlush":true,"labelOverlap":false,"labelFontSize":20,"labelPadding":3,"title":"(f) (60,20) ZCNS","titleFontSize":20,"titleFontWeight":"normal","titlePadding":10}},"y":{"field":"y","type":"quantitative","scale":{"domain":[-0.3,0.3],"nice":false,"zero":false},"axis":null},"detail":{"field":"b"}}}
],"resolve":{"axis":{"y":"independent"}}}
]
}
